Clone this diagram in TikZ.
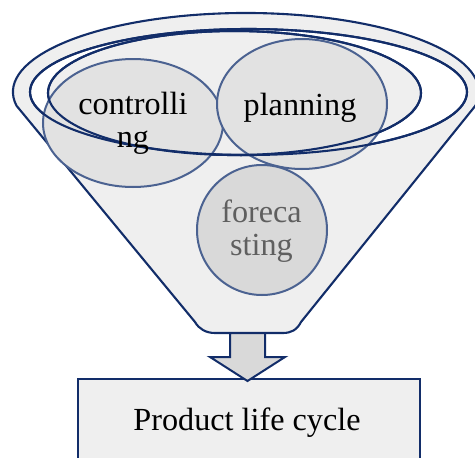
\documentclass[tikz,border=0pt]{standalone}
\usepackage{fontspec}
\setmainfont{Liberation Serif}
\usetikzlibrary{shapes.geometric,calc}
\definecolor{navy}{RGB}{18,45,105}
\definecolor{midnavy}{RGB}{75,98,145}
\definecolor{funnelgray}{RGB}{239,239,239}
\definecolor{circgray}{RGB}{226,226,226}
\definecolor{forgray}{RGB}{217,217,217}
\definecolor{txtgray}{RGB}{95,95,95}
\begin{document}
\begin{tikzpicture}[x=1pt,y=1pt,
  rim/.style={draw=navy,line width=2.1pt},
  bubble/.style={draw=midnavy,line width=2pt,fill=circgray,inner sep=0pt},
  lbl/.style={font=\fontsize{32.2}{33}\selectfont,align=center,inner sep=0pt}]
\useasboundingbox (0,0) rectangle (475,-458);
% bottom box
\node[draw=navy,line width=2pt,fill=funnelgray,minimum width=342pt,minimum height=100pt,anchor=north west,inner sep=0pt] (plcbox) at (77,-378) {};
\node[lbl] (plc) at (247,-422.7) {Product life cycle};
% funnel body
\path[rim,fill=funnelgray] (16.5,-105.7) arc[start angle=190,end angle=-10,x radius=233,y radius=79]
  -- (301,-322) .. controls (297,-330) and (291,-333) .. (283,-333)
  -- (215,-333) .. controls (206,-333) and (199,-329) .. (195,-322) -- cycle;
\path[rim,fill=white] (248.5,-92) ellipse[x radius=218.5,y radius=63];
\path[rim,fill=funnelgray] (234.5,-93) ellipse[x radius=186.5,y radius=62];
% bubbles
\node[bubble,ellipse,minimum width=180pt,minimum height=128pt] (ctrl) at (133,-123) {};
\node[bubble,ellipse,minimum width=170pt,minimum height=130pt] (plan) at (302,-104) {};
\node[bubble,circle,minimum size=130pt,fill=forgray] (fc) at (262,-230) {};
% rim lines over bubbles
\draw[rim] (248.5,-92) ellipse[x radius=218.5,y radius=63];
\draw[rim] (234.5,-93) ellipse[x radius=186.5,y radius=62];
% labels
\node[lbl] (ctrltext) at (133,-123.8) {controlli\\ng};
\node[lbl] (plantext) at (300,-107.7) {planning};
\node[lbl,text=txtgray] (fctext) at (261.5,-231.5) {foreca\\sting};
% block arrow
\coordinate (fbottom) at (247.5,-333);
\path[draw=navy,line width=2pt,fill=forgray,line join=miter]
  ($(fbottom)+(-17.5,0)$) -- ++(0,-24) -- ++(-20,0) -- ($(fbottom)+(0,-48)$)
  -- ($(fbottom)+(37.5,-24)$) -- ++(-20,0) -- ($(fbottom)+(17.5,0)$) -- cycle;
\end{tikzpicture}
\end{document}
